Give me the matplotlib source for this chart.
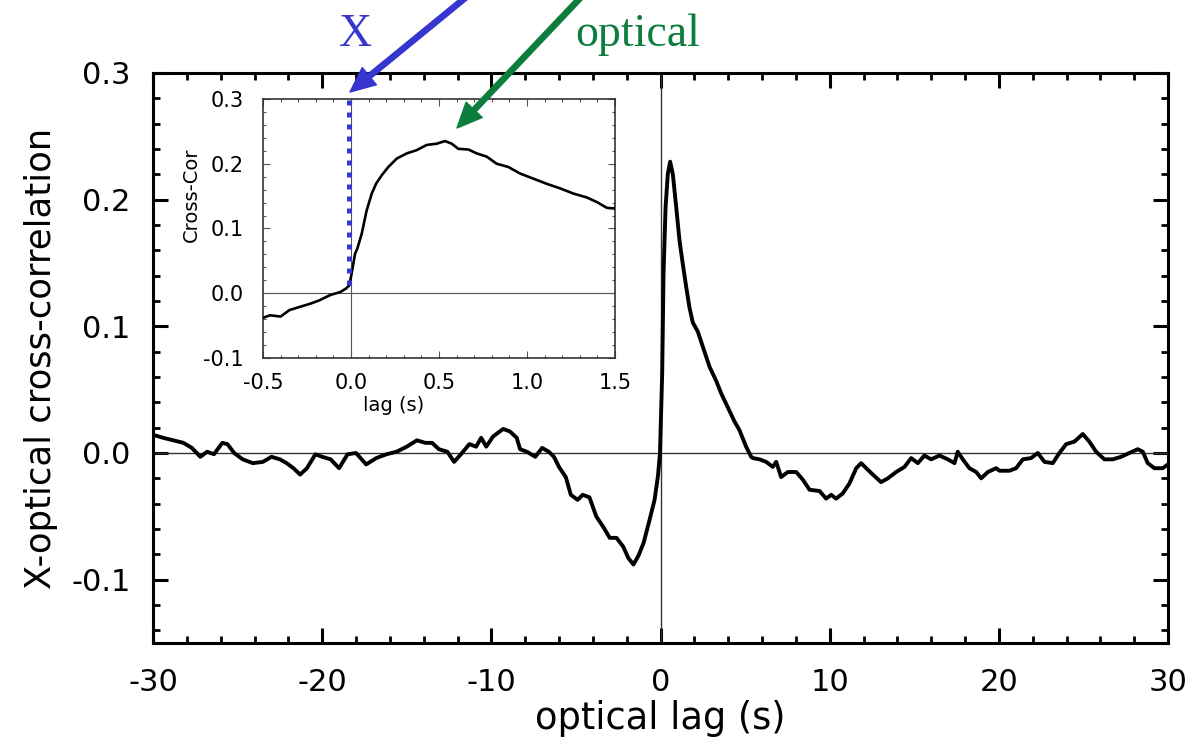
import matplotlib
matplotlib.use("Agg")
import matplotlib.pyplot as plt
from matplotlib.ticker import MultipleLocator, FormatStrFormatter

# main panel: X-optical cross-correlation vs optical lag
main_lag = [-30.0, -29.9, -29.4, -28.8, -28.2, -27.7, -27.2, -26.8, -26.4, -25.9,
            -25.6, -25.2, -24.7, -24.1, -23.5, -23.0, -22.5, -22.1, -21.7, -21.3,
            -20.9, -20.4, -20.0, -19.5, -19.0, -18.5, -18.0, -17.4, -16.8, -16.2,
            -15.6, -15.0, -14.4, -13.9, -13.5, -13.1, -12.6, -12.2, -11.8, -11.3,
            -10.9, -10.6, -10.3, -9.9, -9.3, -8.9, -8.5, -8.3, -7.9, -7.4,
            -7.0, -6.6, -6.3, -6.0, -5.6, -5.3, -4.9, -4.6, -4.2, -3.8,
            -3.4, -3.0, -2.6, -2.2, -1.9, -1.6, -1.3, -1.0, -0.65, -0.35,
            -0.15, -0.03, 0.10, 0.18, 0.30, 0.43, 0.57, 0.73, 0.93, 1.12,
            1.32, 1.52, 1.71, 1.91, 2.20, 2.50, 2.90, 3.29, 3.59, 3.98,
            4.37, 4.67, 5.06, 5.36, 5.46, 5.85, 6.25, 6.64, 6.84, 7.13,
            7.53, 8.02, 8.41, 8.81, 9.40, 9.79, 10.09, 10.38, 10.77, 11.17,
            11.57, 11.86, 12.16, 12.55, 13.04, 13.44, 13.93, 14.42, 14.82, 15.21,
            15.60, 16.00, 16.49, 16.98, 17.38, 17.57, 17.87, 18.26, 18.66, 18.96,
            19.35, 19.84, 20.04, 20.63, 21.02, 21.42, 21.91, 22.30, 22.70, 23.19,
            23.58, 23.98, 24.47, 24.96, 25.35, 25.75, 26.24, 26.73, 27.23, 27.72,
            28.21, 28.51, 28.80, 29.20, 29.69, 30.0]
main_cc = [0.014, 0.014, 0.012, 0.010, 0.008, 0.004, -0.003, 0.001, -0.001, 0.008,
           0.007, 0.000, -0.005, -0.008, -0.007, -0.003, -0.005, -0.008, -0.012, -0.017,
           -0.012, -0.001, -0.003, -0.005, -0.012, -0.001, 0.000, -0.009, -0.004, -0.001,
           0.001, 0.005, 0.010, 0.008, 0.008, 0.003, 0.001, -0.007, -0.001, 0.007,
           0.005, 0.012, 0.005, 0.013, 0.019, 0.017, 0.012, 0.003, 0.001, -0.003,
           0.004, 0.001, -0.003, -0.011, -0.019, -0.033, -0.037, -0.033, -0.035, -0.050,
           -0.058, -0.067, -0.067, -0.074, -0.083, -0.088, -0.081, -0.071, -0.053, -0.037,
           -0.018, 0.000, 0.063, 0.142, 0.194, 0.220, 0.230, 0.220, 0.194, 0.168,
           0.149, 0.131, 0.115, 0.103, 0.096, 0.084, 0.068, 0.057, 0.047, 0.036,
           0.025, 0.018, 0.005, -0.003, -0.004, -0.005, -0.007, -0.011, -0.007, -0.019,
           -0.015, -0.015, -0.021, -0.029, -0.030, -0.036, -0.033, -0.036, -0.032, -0.024,
           -0.012, -0.008, -0.012, -0.017, -0.023, -0.020, -0.015, -0.011, -0.004, -0.008,
           -0.002, -0.005, -0.002, -0.005, -0.008, 0.001, -0.005, -0.012, -0.015, -0.020,
           -0.015, -0.012, -0.014, -0.014, -0.012, -0.005, -0.004, 0.000, -0.007, -0.008,
           0.000, 0.007, 0.009, 0.015, 0.009, 0.001, -0.005, -0.005, -0.003, 0.000,
           0.003, 0.001, -0.008, -0.012, -0.012, -0.009]

# inset: zoom on -0.5 .. 1.5 s
ins_lag = [-0.5, -0.46, -0.40, -0.35, -0.29, -0.23, -0.18, -0.12, -0.06, -0.03,
           -0.01, 0.004, 0.023, 0.036, 0.061, 0.089, 0.118, 0.142, 0.174, 0.212,
           0.26, 0.317, 0.373, 0.430, 0.487, 0.534, 0.572, 0.61, 0.667, 0.714,
           0.771, 0.828, 0.894, 0.96, 1.036, 1.112, 1.188, 1.263, 1.339, 1.396,
           1.453, 1.49, 1.5]
ins_cc = [-0.038, -0.034, -0.036, -0.026, -0.021, -0.016, -0.011, -0.003, 0.002, 0.007,
          0.012, 0.031, 0.061, 0.069, 0.092, 0.128, 0.154, 0.169, 0.182, 0.195,
          0.208, 0.216, 0.221, 0.229, 0.231, 0.235, 0.231, 0.223, 0.222, 0.216,
          0.211, 0.200, 0.195, 0.185, 0.177, 0.169, 0.162, 0.154, 0.148, 0.141,
          0.132, 0.131, 0.132]
xray_lag = [-0.01, -0.01]
xray_cc = [0.012, 0.30]

BLUE = "#3636cf"
GREEN = "#0b7d3d"

plt.rcParams["font.family"] = "DejaVu Sans"
plt.rcParams["axes.unicode_minus"] = False

W, H = 1198, 744
fig = plt.figure(figsize=(W / 100, H / 100), dpi=100)

ax = fig.add_axes([153 / W, 1 - 643 / H, (1168 - 153) / W, (643 - 73) / H])
ax.plot(main_lag, main_cc, color="black", lw=2.8, zorder=3)
ax.axhline(0, color="#333333", lw=1.0, zorder=2)
ax.axvline(0, color="#333333", lw=1.0, zorder=2)
ax.set_xlim(-30, 30)
ax.set_ylim(-0.15, 0.3)
ax.xaxis.set_major_locator(MultipleLocator(10))
ax.xaxis.set_minor_locator(MultipleLocator(2))
ax.yaxis.set_major_locator(MultipleLocator(0.1))
ax.yaxis.set_minor_locator(MultipleLocator(0.02))
ax.yaxis.set_major_formatter(FormatStrFormatter("%.1f"))
ax.tick_params(which="both", direction="in", top=True, right=True)
ax.tick_params(which="major", length=11, width=2.2, labelsize=22)
ax.tick_params(which="minor", length=5, width=2.0)
ax.tick_params(axis="x", which="major", pad=18)
ax.tick_params(axis="y", which="major", pad=16)
for s in ax.spines.values():
    s.set_linewidth(2.2)
ax.set_xlabel("optical lag (s)", fontsize=26.5)
ax.set_ylabel("X-optical cross-correlation", fontsize=25.5)
ax.xaxis.set_label_coords(0.5, -0.1)
ax.yaxis.set_label_coords(-0.094, 0.5)

# inset
ins = fig.add_axes([263 / W, 1 - 358 / H, 352 / W, 259 / H])
ins.set_facecolor("white")
ins.plot(ins_lag, ins_cc, color="black", lw=1.9, zorder=3)
ins.plot(xray_lag, xray_cc, color=BLUE, lw=3.6, linestyle=(0, (1, 1.4)),
         solid_capstyle="butt", dash_capstyle="butt", zorder=4)
ins.axhline(0, color="#555555", lw=0.8, zorder=2)
ins.axvline(0, color="#555555", lw=0.8, zorder=2)
ins.set_xlim(-0.5, 1.5)
ins.set_ylim(-0.1, 0.3)
ins.xaxis.set_major_locator(MultipleLocator(0.5))
ins.xaxis.set_minor_locator(MultipleLocator(0.1))
ins.yaxis.set_major_locator(MultipleLocator(0.1))
ins.yaxis.set_minor_locator(MultipleLocator(0.02))
ins.xaxis.set_major_formatter(FormatStrFormatter("%.1f"))
ins.yaxis.set_major_formatter(FormatStrFormatter("%.1f"))
ins.tick_params(which="both", direction="in", top=True, right=True,
                color="#555555", width=0.8)
ins.tick_params(which="major", length=5, labelsize=15)
ins.tick_params(which="minor", length=2.5)
ins.tick_params(axis="x", which="major", pad=11)
ins.tick_params(axis="y", which="major", pad=14)
for s in ins.spines.values():
    s.set_linewidth(1.2)
    s.set_color("#333333")
ins.set_xlabel("lag (s)", fontsize=14)
ins.set_ylabel("Cross-Cor", fontsize=14)
ins.xaxis.set_label_coords(0.372, -0.148)
ins.yaxis.set_label_coords(-0.177, 0.629)

# arrows and labels above the plot (attached to the inset so they sit on top)
ins.annotate("", xy=(350 / W, 1 - 92 / H), xycoords="figure fraction",
             xytext=(470 / W, 1 + 6 / H), textcoords="figure fraction",
             arrowprops=dict(color=BLUE, width=3.8, headwidth=16, headlength=18),
             annotation_clip=False, zorder=10)
ins.annotate("", xy=(457 / W, 1 - 128 / H), xycoords="figure fraction",
             xytext=(584 / W, 1 + 6 / H), textcoords="figure fraction",
             arrowprops=dict(color=GREEN, width=3.8, headwidth=16, headlength=18),
             annotation_clip=False, zorder=10)
fig.text(356 / W, 1 - 46 / H, "X", color=BLUE, fontsize=33,
         family="Liberation Serif", ha="center", va="baseline")
fig.text(638 / W, 1 - 46 / H, "optical", color=GREEN, fontsize=33,
         family="Liberation Serif", ha="center", va="baseline")

fig.savefig("out.png", dpi=100)
